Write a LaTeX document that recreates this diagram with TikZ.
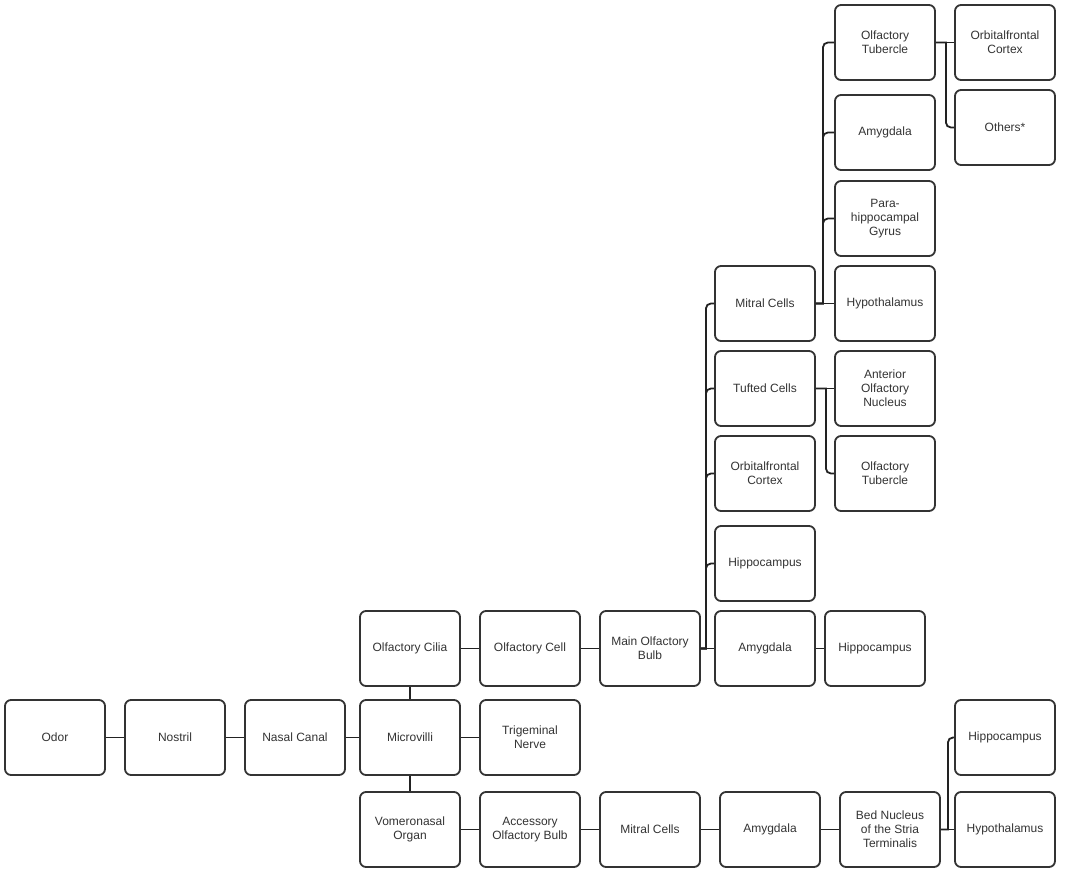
\documentclass[tikz,border=0pt]{standalone}
\usepackage{fontspec}
\setmainfont{Liberation Sans}
\definecolor{boxline}{HTML}{333333}
\definecolor{linkline}{HTML}{222222}
\tikzset{
	box/.style={draw=boxline, line width=1.8pt, rounded corners=6pt, minimum width=100pt, minimum height=75pt,
		align=center, text=boxline, font=\fontsize{12}{14}\selectfont},
	link/.style={draw=linkline, line width=1.8pt},
}
\begin{document}
\begin{tikzpicture}[x=1pt, y=-1pt]
	\useasboundingbox (0,0) rectangle (1066,878);
	% entry chain
	\node [box] (odor) at (55,737.5) {Odor};
	\node [box] (nostril) at (175,737.5) {Nostril};
	\node [box] (canal) at (295,737.5) {Nasal Canal};
	\node [box] (villi) at (410,737.5) {Microvilli};
	\node [box] (cilia) at (410,648.5) {Olfactory Cilia};
	\node [box] (ocell) at (530,648.5) {Olfactory Cell};
	\node [box] (mob) at (650,648.5) {Main Olfactory\\Bulb};
	\node [box] (trig) at (530,737.5) {Trigeminal\\Nerve};
	% accessory pathway
	\node [box] (vomer) at (410,829.5) {Vomeronasal\\Organ};
	\node [box] (aob) at (530,829.5) {Accessory\\Olfactory Bulb};
	\node [box] (amitral) at (650,829.5) {Mitral Cells};
	\node [box] (aamy) at (770,829.5) {Amygdala};
	\node [box] (bnst) at (890,829.5) {Bed Nucleus\\of the Stria\\Terminalis};
	\node [box] (bhippo) at (1005,737.5) {Hippocampus};
	\node [box] (bhypo) at (1005,829.5) {Hypothalamus};
	% main bulb targets
	\node [box] (mitral) at (765,303.5) {Mitral Cells};
	\node [box] (tufted) at (765,388.5) {Tufted Cells};
	\node [box] (ofc) at (765,473.5) {Orbitalfrontal\\Cortex};
	\node [box] (hippo) at (765,563.5) {Hippocampus};
	\node [box] (amy) at (765,648.5) {Amygdala};
	\node [box] (amyhippo) at (875,648.5) {Hippocampus};
	% mitral and tufted targets
	\node [box] (mtub) at (885,42.5) {Olfactory\\Tubercle};
	\node [box] (mamy) at (885,132.5) {Amygdala};
	\node [box] (mphg) at (885,218.5) {Para-\\hippocampal\\Gyrus};
	\node [box] (mhypo) at (885,303.5) {Hypothalamus};
	\node [box] (taon) at (885,388.5) {Anterior\\Olfactory\\Nucleus};
	\node [box] (ttub) at (885,473.5) {Olfactory\\Tubercle};
	\node [box] (tofc) at (1005,42.5) {Orbitalfrontal\\Cortex};
	\node [box] (tothers) at (1005,127.5) {Others*};
	% straight links
	\draw [link] (odor) -- (nostril);
	\draw [link] (nostril) -- (canal);
	\draw [link] (canal) -- (villi);
	\draw [link] (villi) -- (cilia);
	\draw [link] (villi) -- (trig);
	\draw [link] (villi) -- (vomer);
	\draw [link] (cilia) -- (ocell);
	\draw [link] (ocell) -- (mob);
	\draw [link] (vomer) -- (aob);
	\draw [link] (aob) -- (amitral);
	\draw [link] (amitral) -- (aamy);
	\draw [link] (aamy) -- (bnst);
	\draw [link] (amy) -- (amyhippo);
	\draw [link] (mob) -- (amy);
	\draw [link] (mitral) -- (mhypo);
	\draw [link] (tufted) -- (taon);
	\draw [link] (mtub) -- (tofc);
	\draw [link] (bnst) -- (bhypo);
	% elbow links
	\foreach \t in {mitral, tufted, ofc, hippo}
		\draw [link] (mob.east) -- ++(5,0) [rounded corners=5pt] |- (\t.west);
	\foreach \t in {mtub, mamy, mphg}
		\draw [link] (mitral.east) -- ++(7,0) [rounded corners=5pt] |- (\t.west);
	\draw [link] (tufted.east) -- ++(10,0) [rounded corners=5pt] |- (ttub.west);
	\draw [link] (mtub.east) -- ++(10,0) [rounded corners=5pt] |- (tothers.west);
	\draw [link] (bnst.east) -- ++(7,0) [rounded corners=5pt] |- (bhippo.west);
\end{tikzpicture}
\end{document}
